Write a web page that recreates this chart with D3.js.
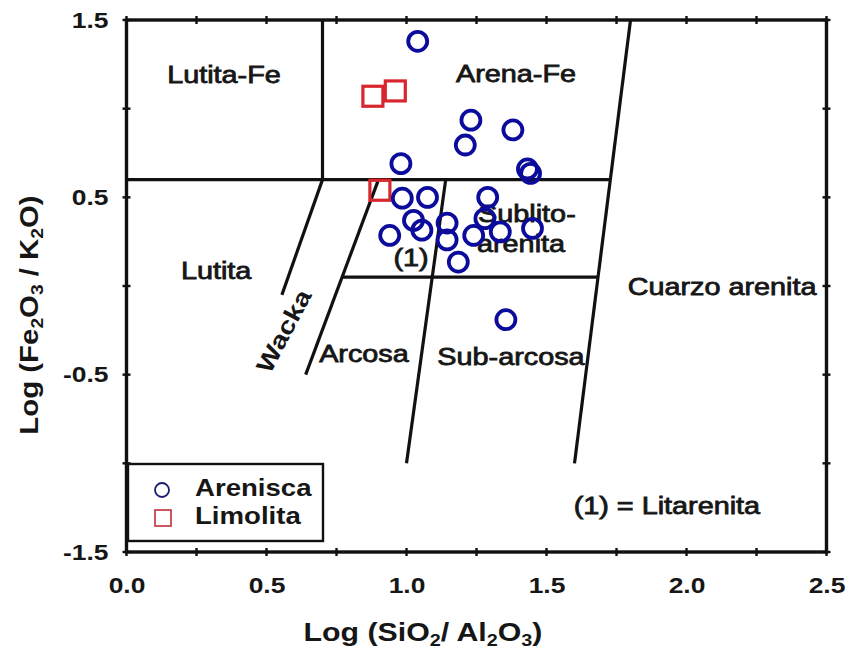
<!DOCTYPE html>
<html>
<head>
<meta charset="utf-8">
<script src="https://cdn.jsdelivr.net/npm/d3@7"></script>
<style>
  html, body { margin: 0; padding: 0; background: #ffffff; }
  svg { display: block; }
  text { font-family: "Liberation Sans", Arial, sans-serif; fill: #161616; }
</style>
</head>
<body>
<svg id="chart" width="853" height="653"></svg>
<script>
// Log(SiO2/Al2O3) vs Log(Fe2O3/K2O) classification (Herron 1988)

// Samples: Arenisca (sandstone)
const arenisca_x = [1.04, 1.23, 1.21, 1.38, 0.98, 1.432, 1.443, 0.985, 1.075, 1.29,
                    0.94, 1.025, 1.055, 1.145, 1.145, 1.24, 1.28, 1.335, 1.45, 1.185, 1.355];
const arenisca_y = [1.38, 0.935, 0.795, 0.88, 0.69, 0.66, 0.635, 0.495, 0.50, 0.50,
                    0.285, 0.37, 0.315, 0.355, 0.26, 0.285, 0.38, 0.305, 0.325, 0.135, -0.19];
// Samples: Limolita (siltstone)
const limolita_x = [0.88, 0.96, 0.905];
const limolita_y = [1.07, 1.10, 0.54];

// Field boundaries, each as [[x1, y1], [x2, y2]] in data units
const boundaries = [
  [[0.00, 0.60], [1.728, 0.60]],
  [[0.70, 1.50], [0.70, 0.60]],
  [[1.80, 1.50], [1.60, -1.00]],
  [[0.70, 0.60], [0.555, -0.05]],
  [[0.90, 0.60], [0.64, -0.50]],
  [[0.77, 0.05], [1.684, 0.05]],
  [[1.14, 0.60], [1.00, -1.00]]
];

// Field names and their anchor points (data units)
const fieldNames = ["Lutita-Fe", "Arena-Fe", "Lutita", "Sublito-", "arenita", "Cuarzo arenita",
                    "(1)", "Arcosa", "Sub-arcosa", "Wacka", "(1) = Litarenita"];
const fieldX = [0.348, 1.391, 0.320, 1.430, 1.409, 2.127, 1.016, 0.848, 1.373, 0.562, 1.930];
const fieldY = [1.145, 1.150, 0.039, 0.361, 0.192, -0.051, 0.113, -0.429, -0.446, -0.254, -1.286];
const fieldAngle = [0, 0, 0, 0, 0, 0, 0, 0, 0, -62, 0];

// Axis ticks
const xTickValues = [0, 0.5, 1.0, 1.5, 2.0, 2.5];
const xMinorTicks = [0.25, 0.75, 1.25, 1.75, 2.25];
const yTickValues = [-1.5, -1.0, -0.5, 0.0, 0.5, 1.0, 1.5];
const yTickLabels = ["-1.5", "", "-0.5", "", "0.5", "", "1.5"];

const seriesNames = ["Arenisca", "Limolita"];

// ---------------------------------------------------------------
const svg = d3.select("#chart");
const STRETCH = 1.2;
const ink = "#111";
const blue = "#0b0b9c";
const red = "#d8262e";

const x = d3.scaleLinear().domain([0, 2.5]).range([126.5, 826.5]);
const y = d3.scaleLinear().domain([-1.5, 1.5]).range([552, 20]);

// places a horizontally widened text at (px, py)
function label(parent, px, py, txt, opts = {}) {
  const g = parent.append("g")
    .attr("transform", `translate(${px},${py}) rotate(${opts.angle || 0}) scale(${opts.stretch || STRETCH},1)`);
  const t = g.append("text")
    .attr("text-anchor", opts.anchor || "middle")
    .attr("font-size", opts.size || 24)
    .attr("font-weight", opts.weight || "normal");
  if (opts.baseline) t.attr("dominant-baseline", opts.baseline);
  if (opts.thicken) t.attr("stroke", "#161616").attr("stroke-width", opts.thicken);
  return t.text(txt);
}

// field boundaries
svg.append("g").selectAll("line").data(boundaries).join("line")
  .attr("x1", d => x(d[0][0])).attr("y1", d => y(d[0][1]))
  .attr("x2", d => x(d[1][0])).attr("y2", d => y(d[1][1]))
  .attr("stroke", ink).attr("stroke-width", 3.2).attr("stroke-linecap", "butt");

// field labels
const fieldLayer = svg.append("g");
fieldNames.forEach((n, i) => {
  const tilted = fieldAngle[i] !== 0;
  label(fieldLayer, x(fieldX[i]), y(fieldY[i]), n, {
    size: 24, angle: fieldAngle[i],
    weight: tilted ? "bold" : "normal",
    thicken: tilted ? null : 0.8,
    baseline: tilted ? "central" : null
  });
});

// plot frame
svg.append("rect")
  .attr("x", x(0)).attr("y", y(1.5))
  .attr("width", x(2.5) - x(0)).attr("height", y(-1.5) - y(1.5))
  .attr("fill", "none").attr("stroke", ink).attr("stroke-width", 3.4);

// tick marks on all four sides
const tickG = svg.append("g").attr("stroke", ink).attr("stroke-width", 2.4);
[y(-1.5), y(1.5)].forEach(yy => {
  tickG.selectAll(null).data(xTickValues.concat(xMinorTicks)).join("line")
    .attr("x1", d => x(d)).attr("x2", d => x(d))
    .attr("y1", yy - 4).attr("y2", yy + 4);
});
[x(0), x(2.5)].forEach(xx => {
  tickG.selectAll(null).data(yTickValues).join("line")
    .attr("y1", d => y(d)).attr("y2", d => y(d))
    .attr("x1", xx - 4).attr("x2", xx + 4);
});

// axis labels via d3 axes
const xAxis = d3.axisBottom(x).tickValues(xTickValues).tickFormat(d3.format(".1f"))
  .tickSize(0).tickPadding(25);
const gx = svg.append("g").attr("transform", `translate(0,${y(-1.5)})`).call(xAxis);
const yAxis = d3.axisLeft(y).tickValues(yTickValues)
  .tickFormat((d, i) => yTickLabels[i]).tickSize(0).tickPadding(15);
const gy = svg.append("g").attr("transform", `translate(${x(0)},0)`).call(yAxis);
[gx, gy].forEach(g => {
  g.select(".domain").remove();
  g.selectAll("text")
    .attr("font-family", "Liberation Sans, Arial, sans-serif")
    .attr("font-size", 22).attr("font-weight", "bold").attr("fill", "#161616")
    .attr("transform", `scale(${STRETCH},1)`);
});
gx.selectAll(".tick text").attr("dy", "0.72em");

// axis titles with subscripts
function titleWithSubs(parent, px, py, parts, angle, stretch) {
  const g = parent.append("g")
    .attr("transform", `translate(${px},${py}) rotate(${angle}) scale(${stretch},1)`);
  const t = g.append("text").attr("text-anchor", "middle")
    .attr("font-size", 26).attr("font-weight", "bold");
  parts.forEach(p => {
    if (p.sub) {
      t.append("tspan").attr("font-size", 17).attr("dy", 5).text(p.t);
    } else {
      t.append("tspan").attr("dy", p.after ? -5 : 0).text(p.t);
    }
  });
  return t;
}
titleWithSubs(svg, 423, 641, [
  {t: "Log (SiO"}, {t: "2", sub: true}, {t: "/ Al", after: true}, {t: "2", sub: true},
  {t: "O", after: true}, {t: "3", sub: true}, {t: ")", after: true}
], 0, 1.165);
titleWithSubs(svg, 38, 315, [
  {t: "Log (Fe"}, {t: "2", sub: true}, {t: "O", after: true}, {t: "3", sub: true},
  {t: " / K", after: true}, {t: "2", sub: true}, {t: "O)", after: true}
], -90, 1.13);

// sample markers
svg.append("g").selectAll("rect")
  .data(d3.range(limolita_x.length)).join("rect")
  .attr("x", i => x(limolita_x[i]) - 10).attr("y", i => y(limolita_y[i]) - 10)
  .attr("width", 20).attr("height", 20)
  .attr("fill", "none").attr("stroke", red).attr("stroke-width", 3.2);

svg.append("g").selectAll("circle")
  .data(d3.range(arenisca_x.length)).join("circle")
  .attr("cx", i => x(arenisca_x[i])).attr("cy", i => y(arenisca_y[i]))
  .attr("r", 9.5)
  .attr("fill", "none").attr("stroke", blue).attr("stroke-width", 3.8);

// legend
const lg = svg.append("g");
lg.append("rect").attr("x", 128).attr("y", 464).attr("width", 195).attr("height", 77)
  .attr("fill", "#fff").attr("stroke", ink).attr("stroke-width", 2.4);
lg.append("circle").attr("cx", 162).attr("cy", 490).attr("r", 7)
  .attr("fill", "none").attr("stroke", "#1c1c70").attr("stroke-width", 1.8);
lg.append("rect").attr("x", 155).attr("y", 510).attr("width", 16).attr("height", 16)
  .attr("fill", "none").attr("stroke", "#c0303a").attr("stroke-width", 1.6);
seriesNames.forEach((n, i) => {
  label(lg, 195, [496, 524][i], n, {anchor: "start", size: 23, weight: "bold"});
});
</script>
</body>
</html>
